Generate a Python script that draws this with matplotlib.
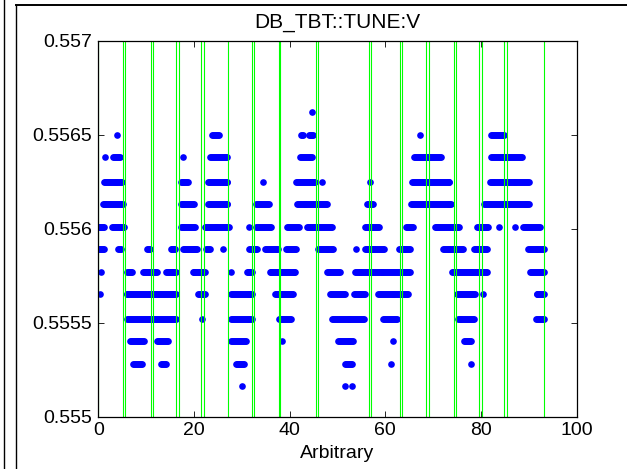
import numpy as np
import matplotlib
matplotlib.use("Agg")
import matplotlib.pyplot as plt
from matplotlib.lines import Line2D

plt.rcParams['font.family'] = ['Liberation Sans', 'DejaVu Sans']

# quantised tune levels (bottom to top)
levels = [0.55516, 0.55528, 0.55540, 0.55552, 0.55565, 0.55577, 0.55589,
          0.55601, 0.55613, 0.55625, 0.55638, 0.55650, 0.55662]

# runs of samples on each level: (x_start, x_end)
runs = [
    [(30.1, 30.1), (51.6, 51.6), (53.0, 53.0)],
    [(7.3, 9.2), (13.2, 14.2), (28.7, 30.5), (51.6, 53.0), (61.2, 61.2), (77.8, 77.8)],
    [(6.6, 9.7), (12.3, 14.5), (27.8, 30.8), (38.5, 38.5), (50.1, 53.4), (61.6, 61.6),
     (76.4, 77.9)],
    [(6.1, 16.3), (21.6, 21.6), (27.8, 32.2), (37.7, 40.3), (48.9, 55.6), (59.6, 62.4),
     (75.1, 78.6), (91.5, 93.2)],
    [(0.4, 0.4), (5.9, 16.3), (20.9, 22.4), (27.8, 32.2), (36.9, 40.8), (48.5, 51.6),
     (53.4, 55.8), (58.5, 64.8), (75.0, 78.8), (80.4, 80.4), (91.6, 93.2)],
    [(0.55, 0.55), (6.1, 7.1), (9.4, 12.3), (14.1, 16.3), (19.7, 22.4), (27.7, 27.7),
     (31.0, 32.2), (35.8, 41.2), (47.9, 50.6), (53.6, 65.2), (74.0, 81.2), (90.3, 93.2)],
    [(0.0, 1.2), (4.2, 4.9), (10.2, 10.9), (15.1, 16.1), (17.7, 20.7), (22.6, 23.4),
     (26.0, 26.0), (31.5, 33.2), (34.9, 37.6), (39.3, 41.4), (45.9, 49.1), (53.9, 53.9),
     (55.7, 59.8), (62.8, 65.3), (72.0, 76.2), (78.5, 81.4), (89.8, 93.2)],
    [(0.0, 1.2), (2.9, 5.4), (17.2, 20.3), (22.3, 27.3), (31.4, 31.4), (33.0, 36.0),
     (39.5, 41.9), (43.6, 48.9), (55.8, 58.6), (64.4, 65.9), (70.3, 75.3), (79.1, 81.5),
     (83.8, 83.8), (87.1, 87.1), (88.7, 92.3)],
    [(0.9, 5.2), (17.2, 20.1), (23.0, 27.1), (33.0, 35.6), (41.5, 47.7), (56.2, 57.4),
     (65.4, 73.9), (80.7, 90.2)],
    [(1.2, 5.0), (17.2, 18.9), (23.0, 27.1), (34.5, 34.5), (41.4, 45.2), (46.7, 46.7),
     (56.8, 56.8), (65.6, 73.5), (81.8, 90.1)],
    [(1.3, 1.3), (3.1, 4.5), (17.8, 17.8), (23.4, 26.9), (42.2, 44.7), (66.0, 71.7),
     (82.1, 88.5)],
    [(3.9, 3.9), (23.8, 25.2), (42.4, 42.9), (44.1, 44.9), (67.2, 67.2), (82.1, 84.7)],
    [(44.7, 44.7)],
]

# scan boundaries (green markers)
bounds = [0, 5.1, 5.5, 11.0, 11.4, 16.2, 16.8, 21.5, 22.0, 27.1, 32.1, 32.55,
          37.7, 38.05, 45.6, 45.95, 56.6, 57.0, 63.0, 63.4, 68.6, 69.05, 74.3, 74.75,
          79.6, 80.1, 84.9, 85.4, 93.2]

xticks = [0, 20, 40, 60, 80, 100]
yticks = [0.555, 0.5555, 0.556, 0.5565, 0.557]
yticklabels = ['0.555', '0.5555', '0.556', '0.5565', '0.557']

# expand runs into sample points (sample spacing ~ one pixel)
xs, ys = [], []
for lev, rr in zip(levels, runs):
    for a, b in rr:
        pts = np.arange(a, b + 1e-9, 0.2) if b > a else np.array([a])
        xs.extend(pts)
        ys.extend([lev] * len(pts))

fig = plt.figure(figsize=(6.27, 4.69), dpi=100)
ax = fig.add_axes([0.1568, 0.1119, 0.763, 0.8013])

ax.plot(xs, ys, 'o', color='blue', markersize=4.8, markeredgewidth=0)
for b in bounds:
    ax.axvline(b, color='#00ff00', lw=0.8)

ax.set_xlim(0, 100)
ax.set_ylim(0.555, 0.557)
ax.set_xticks(xticks)
ax.set_yticks(yticks)
ax.set_yticklabels(yticklabels)
ax.tick_params(direction='in', top=True, right=True, length=4, width=0.6,
               labelsize=14)
ax.tick_params(axis='x', pad=4)
ax.tick_params(axis='y', pad=4.5)
for s in ax.spines.values():
    s.set_linewidth(0.9)
ax.set_title('DB_TBT::TUNE:V', fontsize=15, pad=9)
ax.set_xlabel('Arbitrary', fontsize=14, labelpad=4)

# panel frame from the screenshot
fig.add_artist(Line2D([4 / 627, 4 / 627], [0, 1], color='black', lw=1.0))
fig.add_artist(Line2D([16 / 627, 16 / 627], [0, 1 - 5 / 469], color='black', lw=1.0))
fig.add_artist(Line2D([16 / 627, 1], [1 - 5 / 469, 1 - 5 / 469], color='black', lw=1.4))

fig.savefig('out.png', dpi=100)
